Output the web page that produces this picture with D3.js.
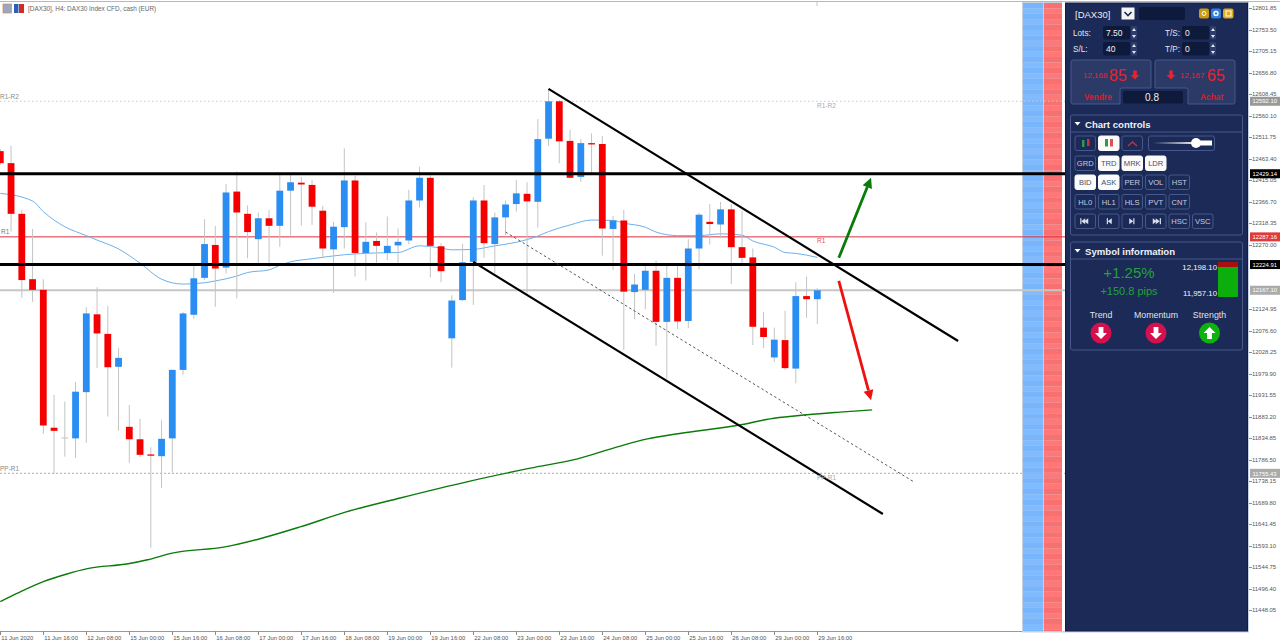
<!DOCTYPE html>
<html>
  <head>
    <meta charset="utf-8">
    <title>DAX30 H4</title>
    <script src="https://d3js.org/d3.v7.min.js" charset="utf-8"></script>
    <style>
      body { margin: 0; background: #fff; }
      svg { display: block; }
      text { font-family: "Liberation Sans", Arial, sans-serif; }
      .axis text { fill: #555; font-size: 5.9px; }
      .axis line, .axis path { stroke: #8a8a8a; shape-rendering: crispEdges; }
    </style>
  </head>
  <body>
  <div id="container"></div>
  <script>
    /* ------------------
      data
    ------------------ */

    var opens = [12480,12453,12339,12192,12168,11858,11836,11834,11938,12113,12069,11995,11860,11832,11798,11794,11834,11988,12112,12195,12269,12218,12389,12339,12282,12329,12312,12391,12409,12404,12346,12259,12309,12414,12251,12278,12251,12268,12279,12369,12420,12266,12059,12145,12231,12369,12271,12331,12361,12384,12366,12508,12592,12503,12422,12498,12496,12305,12324,12163,12168,12211,12096,12195,12098,12261,12321,12315,12349,12264,12241,12083,12016,12055,11991,12154,12147];
    var highs = [12485,12492,12348,12305,12192,11932,11917,11961,12129,12174,12132,12037,11909,11878,11814,11875,11989,12118,12224,12327,12312,12406,12434,12358,12342,12348,12430,12426,12422,12415,12357,12321,12486,12425,12320,12297,12333,12306,12393,12445,12426,12273,12156,12271,12376,12404,12342,12369,12415,12410,12552,12620,12595,12528,12507,12520,12514,12334,12348,12204,12222,12234,12224,12222,12282,12341,12361,12366,12361,12346,12261,12118,12083,12121,12185,12198,12172];
    var lows = [12449,12299,12150,12141,11844,11754,11793,11790,11824,11992,11883,11851,11779,11792,11588,11722,11757,11977,12103,12190,12130,12205,12149,12239,12228,12220,12265,12290,12312,12314,12239,12161,12261,12198,12189,12229,12235,12229,12271,12353,12196,12185,11993,12143,12134,12240,12205,12291,12344,12160,12308,12492,12453,12419,12411,12432,12245,12213,12033,12102,12124,12042,11968,12080,12082,12214,12270,12284,12181,12228,12044,12037,12006,11988,11958,12105,12091];
    var closes = [12453,12339,12190,12168,11863,11851,11836,11939,12115,12070,11994,12015,11832,11797,11795,11833,11988,12115,12194,12271,12216,12387,12342,12298,12329,12312,12391,12410,12405,12355,12261,12310,12414,12251,12276,12267,12267,12276,12369,12420,12267,12210,12144,12230,12369,12273,12331,12360,12385,12367,12507,12592,12502,12420,12498,12495,12306,12324,12164,12180,12211,12096,12195,12097,12261,12337,12316,12349,12264,12240,12085,12062,12056,11992,12154,12147,12167];

    // moving averages, read where the line bends: bar number, then price
    var fastMaBars = [0,3,4,6,8,9,11,13,15,17,19,20,22,23,25,26,27,29,32,35,37,39,41,42,44,46,48,50,51,53,55,57,58,60,61,63,65,67,69,70,72,73,74,76];
    var fastMaValues = [12385,12368,12344,12310,12290,12280,12260,12228,12192,12181,12184,12188,12199,12207,12213,12223,12231,12238,12247,12251,12252,12267,12262,12258,12259,12267,12275,12289,12299,12314,12325,12324,12318,12309,12298,12290,12290,12294,12291,12278,12264,12252,12250,12241];
    var slowMaBars = [0,1.6,4,6.2,8.1,11.9,13.7,16,20.9,24.4,27.9,32.1,37.2,43.7,49.3,53.7,57.4,60.2,63.2,68.8,71.6,74.1,78.1,81.1];
    var slowMaValues = [11467,11486,11512,11529,11541,11552,11561,11576,11590,11610,11635,11668,11700,11738,11767,11788,11815,11833,11845,11864,11878,11885,11893,11898];

    var priceTicks = [12801.85,12753.50,12705.15,12656.80,12608.45,12560.10,12511.75,12463.40,12415.05,12366.70,12318.35,12270.00,12124.95,12076.60,12028.25,11979.90,11931.55,11883.20,11834.85,11786.50,11738.15,11689.80,11641.45,11593.10,11544.75,11496.40,11448.05];
    var timeTickBars = [0,4,8,12,16,20,24,28,32,36,40,44,48,52,56,60,64,68,72,76];
    var timeLabels = ["11 Jun 2020","11 Jun 16:00","12 Jun 08:00","15 Jun 00:00","15 Jun 16:00","16 Jun 08:00","17 Jun 00:00","17 Jun 16:00","18 Jun 08:00","19 Jun 00:00","19 Jun 16:00","22 Jun 08:00","23 Jun 00:00","23 Jun 16:00","24 Jun 08:00","25 Jun 00:00","25 Jun 16:00","26 Jun 08:00","29 Jun 00:00","29 Jun 16:00"];

    var levelThick = [12429.14, 12224.91];
    var levelPrices = [12592.10, 12287.16, 12167.10, 11755.43];
    var levelColors = ["#999", "#e03a3a", "#ababab", "#aaa"];

    // trend lines and arrows: bar, price, bar, price
    var channelTop = [51, 12620, 89.1, 12053];
    var channelBottom = [44, 12231, 82.1, 11664];
    var channelMiddle = [47, 12298, 85, 11736];
    var arrowUp = [78, 12240, 81, 12420];
    var arrowDown = [78, 12188, 81, 11920];

    /* ------------------
      scales
    ------------------ */

    var svg = d3.select('#container').append('svg').attr('width', 1280).attr('height', 644);

    var x = d3.scaleLinear().domain([0, 76]).range([0.3, 817.3]);
    var y = d3.scaleLinear().domain([12819.84, 11398.6]).range([0, 632]);

    var BLUE = '#2a8df2', RED = '#f50000', GREEN = '#0a7a0a';
    var NAVY = '#1b2a56', DARK = '#0e1a3c', EDGE = '#47598c';

    /* ------------------
      side strips
    ------------------ */

    svg.append('rect').attr('x', 1022).attr('y', 2).attr('width', 42).attr('height', 629).attr('fill', '#c6d2e2');
    d3.range(3, 631, 5.4).forEach(function(r, n) {
      var h = Math.min(5.4, 631 - r);
      svg.append('rect').attr('x', 1023).attr('y', r).attr('width', 20).attr('height', h).attr('fill', n % 2 ? '#80bbff' : '#79b5fb');
      svg.append('rect').attr('x', 1044).attr('y', r).attr('width', 18).attr('height', h).attr('fill', n % 2 ? '#ff7777' : '#f97070');
    });
    svg.append('rect').attr('x', 1062).attr('y', 2).attr('width', 3).attr('height', 629).attr('fill', '#fff');

    /* ------------------
      level lines
    ------------------ */

    svg.append('line').attr('x1', 0).attr('x2', 1280).attr('y1', 1.5).attr('y2', 1.5).attr('stroke', '#b8b8b8');
    svg.append('line').attr('x1', 817).attr('x2', 817).attr('y1', 1).attr('y2', 6).attr('stroke', '#c4c4c4');

    function level(price, color, width, dash) {
      svg.append('line').attr('x1', 0).attr('x2', 1065)
        .attr('y1', y(price)).attr('y2', y(price))
        .attr('stroke', color).attr('stroke-width', width)
        .attr('stroke-dasharray', dash);
    }
    level(levelPrices[0], '#c8c8c8', 1, '1.5,2.5');
    level(levelPrices[1], '#d9303a', 1, null);
    level(levelPrices[2], '#c6c6c6', 2, null);
    level(levelPrices[3], '#aaa', 1, '2,2');

    /* ------------------
      moving averages, candles
    ------------------ */

    var maLine = d3.line().curve(d3.curveMonotoneX).x(function(d) { return x(d[0]); }).y(function(d) { return y(d[1]); });

    svg.append('path').attr('d', maLine(d3.zip(fastMaBars, fastMaValues)))
      .attr('fill', 'none').attr('stroke', '#6db0ea').attr('stroke-width', 1);

    var bars = d3.range(opens.length);

    svg.selectAll('.wick').data(bars).enter().append('line')
      .attr('class', 'wick')
      .attr('x1', function(i) { return x(i); }).attr('x2', function(i) { return x(i); })
      .attr('y1', function(i) { return y(highs[i]); }).attr('y2', function(i) { return y(lows[i]); })
      .attr('stroke', '#c4c4c4').attr('stroke-width', 1);

    function candleColor(i) {
      if (closes[i] > opens[i]) return BLUE;
      if (closes[i] < opens[i]) return RED;
      return '#c4c4c4';
    }

    svg.selectAll('.body').data(bars).enter().append('rect')
      .attr('class', 'body')
      .attr('x', function(i) { return x(i) - 3.4; })
      .attr('width', 6.8)
      .attr('y', function(i) { return y(Math.max(opens[i], closes[i])); })
      .attr('height', function(i) { return Math.max(1, Math.abs(y(opens[i]) - y(closes[i]))); })
      .attr('fill', candleColor);

    svg.append('path').attr('d', maLine(d3.zip(slowMaBars, slowMaValues)))
      .attr('fill', 'none').attr('stroke', GREEN).attr('stroke-width', 1.4);

    /* ------------------
      drawn objects
    ------------------ */

    level(levelThick[0], '#000', 3, null);
    level(levelThick[1], '#000', 3, null);

    function segment(s, color, width, dash) {
      svg.append('line')
        .attr('x1', x(s[0])).attr('y1', y(s[1]))
        .attr('x2', x(s[2])).attr('y2', y(s[3]))
        .attr('stroke', color).attr('stroke-width', width)
        .attr('stroke-dasharray', dash);
    }
    segment(channelTop, '#000', 2.2, null);
    segment(channelBottom, '#000', 2.2, null);
    segment(channelMiddle, '#444', 0.9, '2.5,2.5');

    function arrow(s, color) {
      var x1 = x(s[2]), y1 = y(s[3]);
      var a = Math.atan2(y1 - y(s[1]), x1 - x(s[0]));
      var bx = x1 - 10 * Math.cos(a), by = y1 - 10 * Math.sin(a);
      svg.append('line')
        .attr('x1', x(s[0])).attr('y1', y(s[1]))
        .attr('x2', bx).attr('y2', by)
        .attr('stroke', color).attr('stroke-width', 2.8);
      var px = 5 * Math.cos(a + Math.PI / 2), py = 5 * Math.sin(a + Math.PI / 2);
      svg.append('path')
        .attr('d', 'M' + x1 + ',' + y1 + 'L' + (bx + px) + ',' + (by + py) + 'L' + (bx - px) + ',' + (by - py) + 'Z')
        .attr('fill', color);
    }
    arrow(arrowUp, GREEN);
    arrow(arrowDown, '#ee1111');

    function note(px, price, off, str, color) {
      svg.append('text').attr('x', px).attr('y', y(price) + off).text(str)
        .attr('font-size', 6.5).attr('fill', color);
    }
    note(0, levelPrices[0], -2, 'R1-R2', '#8a8a8a');
    note(817, levelPrices[0], 6.5, 'R1-R2', '#aaa');
    note(1, levelPrices[1], -3, 'R1', '#777');
    note(817, levelPrices[1], 6.5, 'R1', '#e25050');
    note(0, levelPrices[3], -2, 'PP-R1', '#888');
    note(817, levelPrices[3], 6.5, 'PP-R1', '#aaa');

    /* ------------------
      axes
    ------------------ */

    svg.append('rect').attr('x', 1247).attr('y', 2).attr('width', 2).attr('height', 630).attr('fill', '#c5d2e4');
    svg.append('line').attr('x1', 0).attr('x2', 1022).attr('y1', 631.5).attr('y2', 631.5).attr('stroke', '#999');
    svg.append('rect').attr('x', 1022).attr('y', 631).attr('width', 227).attr('height', 1.5).attr('fill', '#c5d2e4');

    var priceAxis = d3.axisRight(y).tickValues(priceTicks).tickSize(3).tickPadding(0)
      .tickFormat(function(d) { return d.toFixed(2); });
    var rightAxis = svg.append('g').attr('class', 'axis').attr('transform', 'translate(1249,0)').call(priceAxis);
    rightAxis.select('.domain').remove();

    var timeAxis = d3.axisBottom(x).tickValues(timeTickBars).tickSize(4).tickPadding(0)
      .tickFormat(function(d, n) { return timeLabels[n]; });
    var bottomAxis = svg.append('g').attr('class', 'axis').attr('transform', 'translate(0,631)').call(timeAxis);
    bottomAxis.select('.domain').remove();
    bottomAxis.selectAll('text').attr('text-anchor', 'start').attr('dy', '.8em').attr('x', 0.5);

    // price tags on the axis
    var tagPrices = levelPrices.concat(levelThick);
    var tagColors = levelColors.concat(['#000', '#000']);
    var tags = svg.selectAll('.tag').data(tagPrices).enter().append('g')
      .attr('transform', function(d) { return 'translate(1250,' + y(d) + ')'; });
    tags.append('rect').attr('x', 0).attr('y', -4.5).attr('width', 30).attr('height', 9)
      .attr('fill', function(d, n) { return tagColors[n]; });
    tags.append('text').attr('x', 2.5).attr('y', 2.2).attr('font-size', 5.9).attr('fill', '#fff')
      .text(function(d) { return d.toFixed(2); });

    // title
    svg.append('rect').attr('x', 3).attr('y', 4).attr('width', 8.5).attr('height', 9).attr('fill', '#9aa6c4').attr('stroke', '#d08a50').attr('stroke-width', 0.7);
    svg.append('rect').attr('x', 14).attr('y', 4).attr('width', 4.5).attr('height', 9).attr('fill', '#2f5fb5');
    svg.append('rect').attr('x', 19).attr('y', 4).attr('width', 5).attr('height', 9).attr('fill', '#d02a2a');
    svg.append('text').attr('x', 28).attr('y', 11).attr('font-size', 6.4).attr('fill', '#666')
      .text('[DAX30], H4:  DAX30 Index CFD, cash (EUR)');

    /* ------------------
      panel
    ------------------ */

    var panel = svg.append('g');
    panel.append('rect').attr('x', 1065.5).attr('y', 3).attr('width', 182).attr('height', 628)
      .attr('fill', NAVY).attr('stroke', '#111c44');

    function label(px, py, str, size, color, anchor, weight) {
      return panel.append('text').attr('x', px).attr('y', py).text(str)
        .attr('font-size', size).attr('fill', color)
        .attr('text-anchor', anchor || 'start').attr('font-weight', weight || 'normal');
    }
    function box(px, py, w, h, fill, stroke, rx) {
      return panel.append('rect').attr('x', px).attr('y', py).attr('width', w).attr('height', h)
        .attr('fill', fill).attr('stroke', stroke || 'none').attr('rx', rx || 0);
    }
    function downArrow(cx, cy, s, color) {
      panel.append('path').attr('fill', color).attr('d',
        'M' + (cx - s * 0.4) + ',' + (cy - s) + 'h' + (s * 0.8) + 'v' + s + 'h' + (s * 0.6) +
        'l' + (-s) + ',' + s + 'l' + (-s) + ',' + (-s) + 'h' + (s * 0.6) + 'Z');
    }
    function upArrow(cx, cy, s, color) {
      panel.append('path').attr('fill', color).attr('d',
        'M' + (cx - s * 0.4) + ',' + (cy + s) + 'h' + (s * 0.8) + 'v' + (-s) + 'h' + (s * 0.6) +
        'l' + (-s) + ',' + (-s) + 'l' + (-s) + ',' + s + 'h' + (s * 0.6) + 'Z');
    }

    // trade block
    label(1075, 18, '[DAX30]', 9.5, '#e8ecf6');
    box(1121.5, 7.5, 13, 12, '#f4f4f4');
    panel.append('path').attr('d', 'M1124.5,12l3.5,3.5l3.5,-3.5').attr('fill', 'none').attr('stroke', '#1b2a56').attr('stroke-width', 1.6);
    box(1139, 7, 46, 13, DARK, null, 2);
    box(1199, 8.5, 10, 10, '#c99a12', null, 2);
    box(1211, 8.5, 10, 10, '#2f7fe0', null, 2);
    box(1223, 8.5, 10.5, 10, '#e0ac18', null, 2);
    panel.append('circle').attr('cx', 1204).attr('cy', 13.5).attr('r', 2).attr('fill', 'none').attr('stroke', '#fff').attr('stroke-width', 1);
    panel.append('circle').attr('cx', 1216).attr('cy', 13.5).attr('r', 2).attr('fill', 'none').attr('stroke', '#fff').attr('stroke-width', 1.4);
    panel.append('rect').attr('x', 1226).attr('y', 11).attr('width', 5).attr('height', 5).attr('fill', 'none').attr('stroke', '#fff').attr('stroke-width', 1);

    var fieldNames = ['Lots:', 'S/L:', 'T/S:', 'T/P:'];
    var fieldValues = ['7.50', '40', '0', '0'];
    var fieldLeft = [1073, 1073, 1165, 1165];
    var fieldBox = [1103, 1103, 1182, 1182];
    var fieldTop = [26, 42, 26, 42];
    fieldNames.forEach(function(name, n) {
      label(fieldLeft[n], fieldTop[n] + 10, name, 8.2, '#e2e6f0');
      box(fieldBox[n], fieldTop[n], 27, 13.5, DARK, null, 2);
      label(fieldBox[n] + 3, fieldTop[n] + 10, fieldValues[n], 8.5, '#f0f0f0');
      box(fieldBox[n] + 28, fieldTop[n], 6, 13.5, '#2d3d6c', null, 1);
      panel.append('path').attr('fill', '#dfe5f2').attr('d',
        'M' + (fieldBox[n] + 29) + ',' + (fieldTop[n] + 5) + 'l2,-3l2,3Z' +
        'M' + (fieldBox[n] + 29) + ',' + (fieldTop[n] + 9) + 'l2,3l2,-3Z');
    });

    panel.append('path').attr('d', 'M1073,60H1149Q1151,60 1151,62V88H1122Q1120,88 1120,90V104H1073Q1071,104 1071,102V62Q1071,60 1073,60Z')
      .attr('fill', '#2b3a67').attr('stroke', EDGE);
    panel.append('path').attr('d', 'M1157,60H1233Q1235,60 1235,62V102Q1235,104 1233,104H1188V90Q1188,88 1186,88H1155V62Q1155,60 1157,60Z')
      .attr('fill', '#2b3a67').attr('stroke', EDGE);
    label(1083, 78, '12,168', 8, '#e8232f');
    label(1109, 80.5, '85', 16, '#e8232f');
    downArrow(1135, 75, 4.5, '#e8232f');
    downArrow(1171, 75, 4.5, '#e8232f');
    label(1180, 78, '12,167', 8, '#e8232f');
    label(1207, 80.5, '65', 16, '#e8232f');
    label(1084, 100, 'Vendre', 8.4, '#d81f2b', 'start', 'bold');
    label(1200, 100, 'Achat', 8.4, '#d81f2b', 'start', 'bold');
    box(1123, 91, 60, 12.5, DARK, null, 2);
    label(1152, 101, '0.8', 10, '#f0f0f0', 'middle');

    function sectionBox(top, bottom, title) {
      box(1070.5, top, 172, bottom - top, 'none', EDGE, 2);
      panel.append('line').attr('x1', 1071).attr('x2', 1242).attr('y1', top + 17).attr('y2', top + 17).attr('stroke', EDGE);
      panel.append('path').attr('d', 'M1074.5,' + (top + 7) + 'h6l-3,3.5Z').attr('fill', '#fff');
      label(1085, top + 12.5, title, 9.6, '#eef1f8', 'start', 'bold');
    }

    // chart controls
    sectionBox(115, 235, 'Chart controls');

    var buttonColumns = [1075, 1098.5, 1122, 1145.5, 1169, 1192.5];
    var buttonRows = [156, 175, 194.5, 214];
    var buttonText = [
      ['GRD', 'TRD', 'MRK', 'LDR'],
      ['BID', 'ASK', 'PER', 'VOL', 'HST'],
      ['HL0', 'HL1', 'HLS', 'PVT', 'CNT'],
      ['', '', '', '', 'HSC', 'VSC']
    ];
    var buttonOn = ['TRD', 'MRK', 'LDR', 'BID', 'ASK'];

    function button(px, py, str, on) {
      box(px, py, 20.5, 14.5, on ? '#fbfbfb' : NAVY, on ? '#fbfbfb' : EDGE, 2);
      if (str) label(px + 10.25, py + 10.2, str, 7.6, on ? '#44506e' : '#c6cee2', 'middle');
    }
    buttonText.forEach(function(row, r) {
      row.forEach(function(str, c) {
        button(buttonColumns[c], buttonRows[r], str, buttonOn.indexOf(str) >= 0);
      });
    });

    // top row of controls: chart type icons and slider
    button(buttonColumns[0], 136, '', false);
    button(buttonColumns[1], 136, '', true);
    button(buttonColumns[2], 136, '', false);
    box(1082, 140, 2.5, 7, '#2e9a4a'); box(1087, 139, 2.5, 7, '#d0303a');
    box(1105, 139, 3, 7.5, '#2e9a4a'); box(1110, 139, 3, 7.5, '#e05050');
    panel.append('path').attr('d', 'M1128,146l4.5,-4l4.5,4').attr('fill', 'none').attr('stroke', '#c8303a').attr('stroke-width', 1.4);
    box(1148.5, 136, 66, 14.5, NAVY, EDGE, 2);

    var grad = svg.append('defs').append('linearGradient').attr('id', 'slide');
    grad.append('stop').attr('offset', '0%').attr('stop-color', NAVY);
    grad.append('stop').attr('offset', '100%').attr('stop-color', '#fff');
    box(1153, 142, 45, 2, 'url(#slide)');
    box(1198, 140.5, 14, 5, '#fff');
    panel.append('circle').attr('cx', 1196).attr('cy', 143).attr('r', 5).attr('fill', '#fff');

    // skip buttons in the last row
    function skip(cx, dir, count) {
      var cy = 221.2;
      for (var k = 0; k < count; k++) {
        panel.append('path').attr('fill', '#d8deec')
          .attr('d', 'M' + (cx + dir * (k * 3 - 3)) + ',' + (cy - 3) + 'v6l' + (dir * 4) + ',-3Z');
      }
      panel.append('rect').attr('x', dir > 0 ? cx + (count * 3 - 2) : cx - (count * 3 - 1)).attr('y', cy - 3)
        .attr('width', 1.2).attr('height', 6).attr('fill', '#d8deec');
    }
    skip(buttonColumns[0] + 10.25, -1, 2);
    skip(buttonColumns[1] + 10.25, -1, 1);
    skip(buttonColumns[2] + 10.25, 1, 1);
    skip(buttonColumns[3] + 10.25, 1, 2);

    // symbol information
    sectionBox(242, 350, 'Symbol information');
    label(1129, 277.5, '+1.25%', 15, '#23a23a', 'middle');
    label(1129, 295, '+150.8 pips', 11, '#23a23a', 'middle');
    label(1217, 270, '12,198.10', 7.8, '#f2f4fa', 'end');
    label(1217, 296, '11,957.10', 7.8, '#f2f4fa', 'end');
    box(1218, 262, 20, 35, '#0cae0c', null, 1);
    box(1218, 262, 20, 5, '#a80f0f', null, 1);

    var gaugeNames = ['Trend', 'Momentum', 'Strength'];
    var gaugeX = [1101, 1156, 1209.5];
    var gaugeUp = [false, false, true];
    gaugeNames.forEach(function(name, n) {
      label(gaugeX[n], 318, name, 8.8, '#dfe4f0', 'middle');
      panel.append('circle').attr('cx', gaugeX[n]).attr('cy', 333).attr('r', 10.5)
        .attr('fill', gaugeUp[n] ? '#0cb30c' : '#d4104f');
      if (gaugeUp[n]) upArrow(gaugeX[n], 333, 6, '#fff');
      else downArrow(gaugeX[n], 333, 6, '#fff');
    });
  </script>
</body>
</html>
